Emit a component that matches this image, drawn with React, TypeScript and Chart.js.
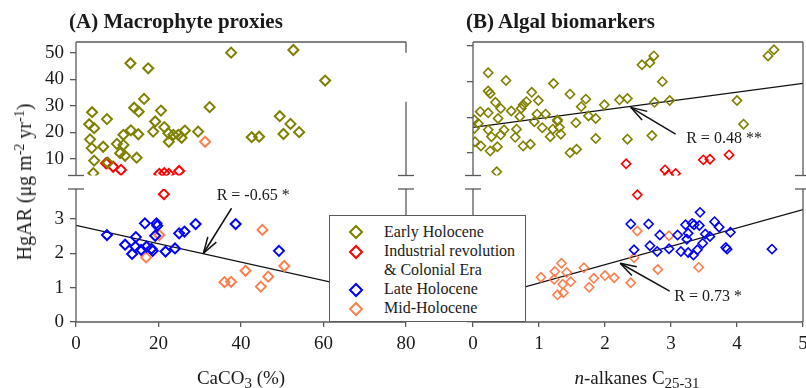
import React, { useEffect, useRef } from 'react';
import { Chart, registerables } from 'chart.js';

Chart.register(...registerables);

const FONT = '"Liberation Serif", "Times New Roman", Times, serif';
const OLIVE = '#808000';
const RED = '#FF0000';
const BLUE = '#0000FF';
const ORANGE = '#FA8050';
const FRAME = '#5a5a5a';
const TEXT = '#1a1a1a';

type Pair = [number, number];

// ---------- Panel A: Macrophyte proxies (x = CaCO3 %) ----------
const aXTicks = [0, 20, 40, 60, 80];
const aTopTicks = [10, 20, 30, 40, 50];
const aBotTicks = [0, 1, 2, 3];

const aEarly: Pair[] = [
  [13.2, 46.0], [17.5, 44.1], [37.6, 50.0], [52.7, 51.0], [60.4, 39.5], [16.5, 32.6],
  [14.1, 29.3], [15.2, 27.8], [20.6, 28.2], [32.4, 29.5], [3.9, 27.6], [7.5, 25.0],
  [3.2, 23.1], [4.4, 21.6], [19.2, 24.1], [13.3, 20.8], [15.1, 19.3], [18.7, 20.3],
  [21.4, 22.0], [22.4, 19.7], [22.5, 16.5], [23.6, 19.1], [24.8, 19.1], [25.6, 18.0],
  [26.4, 20.7], [29.6, 20.3], [42.6, 18.2], [44.4, 18.4], [49.4, 26.1], [52.0, 23.2],
  [50.3, 19.4], [54.1, 20.1], [3.4, 17.4], [3.8, 14.1], [6.6, 14.6], [9.9, 15.7],
  [11.5, 19.1], [11.5, 15.3], [10.7, 12.2], [11.9, 11.2], [14.7, 10.5], [4.4, 9.4],
  [7.7, 8.6], [4.2, 4.7],
];
const aIndustrialTop: Pair[] = [
  [7.3, 8.4], [9.0, 7.1], [10.9, 5.9], [20.2, 4.4], [21.4, 4.7], [22.5, 4.4], [25.0, 5.5],
];
const aIndustrialBot: Pair[] = [[21.3, 3.72]];
const aLate: Pair[] = [
  [7.5, 2.53], [11.9, 2.25], [13.6, 1.98], [14.5, 2.47], [14.4, 2.19], [15.8, 2.10],
  [16.7, 2.87], [17.1, 2.19], [18.3, 2.13], [18.6, 2.07], [19.5, 2.87], [19.7, 2.80],
  [19.2, 2.51], [21.7, 2.05], [24.0, 2.14], [25.0, 2.58], [26.3, 2.63], [29.0, 2.85],
  [38.7, 2.85], [49.2, 2.07],
];
const aMidTop: Pair[] = [[31.3, 16.5]];
const aMidBot: Pair[] = [
  [20.2, 2.53], [17.0, 1.88], [45.2, 2.68], [41.1, 1.49], [36.0, 1.16], [37.6, 1.17],
  [46.6, 1.32], [44.8, 1.03], [50.5, 1.63],
];
const aFit: Pair[] = [[0, 2.81], [80, 0.67]];

// ---------- Panel B: Algal biomarkers (x = n-alkanes C25-31) ----------
const bXTicks = [0, 1, 2, 3, 4, 5];
const bTopTicks = [10, 20, 30, 40];
const bBotTicks = [0, 1, 2, 3];

const bEarly: Pair[] = [
  [0.23, 32.5], [0.50, 30.3], [1.22, 29.5], [0.23, 27.4], [0.26, 26.7], [0.89, 27.0],
  [1.47, 26.5], [1.71, 25.1], [0.81, 24.4], [0.99, 24.7], [0.34, 24.2], [0.76, 23.5],
  [1.64, 23.0], [1.99, 23.5], [2.22, 24.9], [2.34, 25.3], [0.11, 21.6], [0.23, 21.3],
  [0.42, 22.5], [0.58, 21.8], [0.73, 22.5], [0.97, 20.9], [1.10, 20.9], [1.75, 20.4],
  [1.86, 19.7], [0.38, 19.7], [0.71, 20.2], [1.28, 19.3], [0.02, 19.3], [0.08, 18.3],
  [1.56, 18.5], [0.02, 16.9], [0.23, 16.5], [0.47, 16.5], [0.66, 16.7], [0.93, 18.8],
  [1.05, 17.1], [1.21, 16.7], [1.31, 17.2], [1.28, 19.0], [1.17, 14.6], [1.33, 15.3],
  [0.28, 14.6], [0.42, 15.1], [0.64, 14.4], [0.03, 13.2], [0.12, 12.0], [0.26, 10.6],
  [0.37, 11.8], [0.76, 12.0], [0.87, 12.5], [1.47, 10.1], [1.57, 11.1], [1.86, 14.1],
  [2.34, 13.9], [0.36, 4.8], [2.56, 34.7], [2.68, 35.3], [2.74, 37.2], [2.87, 30.0],
  [2.75, 24.2], [2.98, 24.7], [2.71, 14.9], [4.0, 24.7], [4.1, 18.1], [4.47, 37.2],
  [4.56, 38.9],
];
const bIndustrialTop: Pair[] = [
  [2.32, 7.0], [2.91, 5.3], [2.96, 3.9], [3.07, 4.3], [3.49, 8.1], [3.59, 8.3], [3.88, 9.5],
];
const bIndustrialBot: Pair[] = [[2.49, 3.70]];
const bLate: Pair[] = [
  [2.39, 2.85], [2.66, 2.85], [3.44, 3.19], [3.22, 2.83], [3.32, 2.87], [3.35, 2.83],
  [3.43, 2.81], [3.66, 2.92], [3.73, 2.76], [3.90, 2.61], [2.83, 2.53], [3.10, 2.53],
  [3.26, 2.58], [3.24, 2.41], [3.52, 2.56], [3.59, 2.49], [3.48, 2.29], [2.68, 2.22],
  [2.44, 2.10], [2.79, 2.05], [2.97, 2.13], [3.15, 2.05], [3.26, 2.02], [3.34, 1.95],
  [3.40, 2.10], [3.83, 2.17], [3.85, 2.12], [4.53, 2.12],
];
const bMid: Pair[] = [
  [2.49, 2.65], [2.97, 2.51], [2.44, 1.87], [2.80, 1.53], [3.42, 1.59], [2.39, 1.14],
  [1.03, 1.30], [1.24, 1.47], [1.34, 1.71], [1.42, 1.44], [1.23, 1.24], [1.48, 1.17],
  [1.36, 1.10], [1.28, 0.79], [1.37, 0.85], [1.68, 1.58], [1.83, 1.27], [1.76, 1.01],
  [2.00, 1.35], [2.14, 1.29],
];
const bFitTop: Pair[] = [[0, 17.2], [5, 29.5]];
const bFitBot: Pair[] = [[0, 0.60], [5, 3.27]];

const legendLabels = ['Early Holocene', 'Industrial revolution', '& Colonial Era', 'Late Holocene', 'Mid-Holocene'];

interface Ann {
  text: string;
  axis: 'yTop' | 'yBot';
  tx: number; ty: number; // text left/middle
  fx: number; fy: number; // arrow tail
  hx: number; hy: number; // arrow tip
}

interface Series { data: Pair[]; color: string; axis: 'yTop' | 'yBot' }

interface PanelCfg {
  xMin: number; xMax: number; xTicks: number[];
  topRange: [number, number]; topTicks: number[];
  botRange: [number, number]; botTicks: number[];
  showYLabels: boolean;
  yWidth: number; padLeft: number; padRight: number;
  series: Series[];
  fits: Series[];
  anns: Ann[];
  rightGap?: [number, number];
  pointRadius: number; pointBorder: number;
}

const panelA: PanelCfg = {
  xMin: 0, xMax: 80, xTicks: aXTicks,
  topRange: [3.8, 54], topTicks: aTopTicks,
  botRange: [0, 3.87], botTicks: aBotTicks,
  showYLabels: true, yWidth: 60, padLeft: 16, padRight: 34,
  series: [
    { data: aEarly, color: OLIVE, axis: 'yTop' },
    { data: aIndustrialTop, color: RED, axis: 'yTop' },
    { data: aIndustrialBot, color: RED, axis: 'yBot' },
    { data: aLate, color: BLUE, axis: 'yBot' },
    { data: aMidTop, color: ORANGE, axis: 'yTop' },
    { data: aMidBot, color: ORANGE, axis: 'yBot' },
  ],
  fits: [{ data: aFit, color: '#111', axis: 'yBot' }],
  anns: [{ text: 'R = -0.65 *', axis: 'yBot', tx: 34.1, ty: 3.67, fx: 37.7, fy: 3.31, hx: 30.9, hy: 2.0 }],
  rightGap: [50, 31.5],
  pointRadius: 5, pointBorder: 2,
};

const panelB: PanelCfg = {
  xMin: 0, xMax: 5, xTicks: bXTicks,
  topRange: [3.73, 41.09], topTicks: bTopTicks,
  botRange: [0, 3.87], botTicks: bBotTicks,
  showYLabels: false, yWidth: 20, padLeft: 13, padRight: 17,
  series: [
    { data: bEarly, color: OLIVE, axis: 'yTop' },
    { data: bIndustrialTop, color: RED, axis: 'yTop' },
    { data: bIndustrialBot, color: RED, axis: 'yBot' },
    { data: bLate, color: BLUE, axis: 'yBot' },
    { data: bMid, color: ORANGE, axis: 'yBot' },
  ],
  fits: [
    { data: bFitTop, color: '#111', axis: 'yTop' },
    { data: bFitBot, color: '#111', axis: 'yBot' },
  ],
  anns: [
    { text: 'R = 0.48 **', axis: 'yTop', tx: 3.23, ty: 14.1, fx: 3.07, fy: 15.3, hx: 2.39, hy: 22.8 },
    { text: 'R = 0.73 *', axis: 'yBot', tx: 3.05, ty: 0.72, fx: 2.98, fy: 0.90, hx: 2.23, hy: 1.71 },
  ],
  pointRadius: 4.6, pointBorder: 1.6,
};

function buildChart(canvas: HTMLCanvasElement, cfg: PanelCfg) {
  const pts = (arr: Pair[]) => arr.map(([x, y]) => ({ x, y }));
  const datasets: any[] = [];
  cfg.fits.forEach((f) => {
    datasets.push({
      type: 'line', data: pts(f.data), xAxisID: 'x', yAxisID: f.axis,
      borderColor: f.color, borderWidth: 1.2, pointRadius: 0, fill: false, tension: 0, order: 2,
    });
  });
  cfg.series.forEach((s) => {
    datasets.push({
      type: 'scatter', data: pts(s.data), xAxisID: 'x', yAxisID: s.axis, showLine: false,
      pointStyle: 'rectRot', pointRadius: cfg.pointRadius, pointHoverRadius: cfg.pointRadius,
      pointBorderWidth: cfg.pointBorder, borderColor: s.color, pointBorderColor: s.color,
      backgroundColor: 'rgba(0,0,0,0)', pointBackgroundColor: 'rgba(0,0,0,0)', order: 1,
    });
  });

  const tickFont = { family: FONT, size: 19 };
  const yAxis = (range: [number, number], ticks: number[], weight: number) => ({
    type: 'linear', position: 'left', stack: 'panel', stackWeight: weight,
    min: range[0], max: range[1],
    afterBuildTicks: (s: any) => { s.ticks = ticks.map((v) => ({ value: v })); },
    afterFit: (s: any) => { s.width = cfg.yWidth; s.paddingTop = 0; s.paddingBottom = 0; },
    ticks: { display: cfg.showYLabels, font: tickFont, color: TEXT, padding: 6, autoSkip: false },
    grid: { display: true, drawOnChartArea: false, drawTicks: true, tickLength: 6, color: FRAME, lineWidth: 1.3 },
    border: { display: false },
  });

  const framePlugin = {
    id: 'frameAndNotes',
    afterDraw(chart: any) {
      const ctx = chart.ctx as CanvasRenderingContext2D;
      const { left, right } = chart.chartArea;
      const yt = chart.scales.yTop;
      const yb = chart.scales.yBot;
      const xs = chart.scales.x;
      ctx.save();
      ctx.strokeStyle = FRAME;
      ctx.lineWidth = 1.3;
      const seg = (x1: number, y1: number, x2: number, y2: number) => {
        ctx.beginPath(); ctx.moveTo(x1, y1); ctx.lineTo(x2, y2); ctx.stroke();
      };
      seg(left, yt.top, right, yt.top);
      seg(left, yt.top, left, yt.bottom);
      if (cfg.rightGap) {
        const g1 = yt.getPixelForValue(cfg.rightGap[0]);
        const g2 = yt.getPixelForValue(cfg.rightGap[1]);
        seg(right, yt.top, right, g1);
        seg(right, g2, right, yt.bottom);
      } else {
        seg(right, yt.top, right, yt.bottom);
      }
      seg(left, yb.top, left, yb.bottom);
      seg(right, yb.top, right, yb.bottom);
      seg(left, yb.bottom, right, yb.bottom);
      for (const x of [left, right]) {
        for (const y of [yt.bottom, yb.top]) seg(x - 8, y, x + 8, y);
      }
      // annotations
      ctx.strokeStyle = '#111';
      ctx.fillStyle = TEXT;
      ctx.lineWidth = 1.5;
      ctx.font = `16px ${FONT}`;
      ctx.textAlign = 'left';
      ctx.textBaseline = 'middle';
      for (const a of cfg.anns) {
        const ys = chart.scales[a.axis];
        const tx = xs.getPixelForValue(a.tx), ty = ys.getPixelForValue(a.ty);
        const fx = xs.getPixelForValue(a.fx), fy = ys.getPixelForValue(a.fy);
        const hx = xs.getPixelForValue(a.hx), hy = ys.getPixelForValue(a.hy);
        ctx.fillText(a.text, tx, ty);
        seg(fx, fy, hx, hy);
        const ang = Math.atan2(fy - hy, fx - hx);
        const L = 17, sp = 0.3;
        seg(hx, hy, hx + L * Math.cos(ang + sp), hy + L * Math.sin(ang + sp));
        seg(hx, hy, hx + L * Math.cos(ang - sp), hy + L * Math.sin(ang - sp));
      }
      ctx.restore();
    },
  };

  return new Chart(canvas, {
    type: 'scatter',
    data: { datasets },
    options: {
      responsive: false,
      maintainAspectRatio: false,
      animation: false,
      devicePixelRatio: 1,
      events: [],
      layout: { padding: { left: cfg.padLeft, right: cfg.padRight, top: 42, bottom: 26 } },
      plugins: { legend: { display: false }, tooltip: { enabled: false }, title: { display: false } },
      scales: {
        x: {
          type: 'linear', position: 'bottom', min: cfg.xMin, max: cfg.xMax,
          afterBuildTicks: (s: any) => { s.ticks = cfg.xTicks.map((v) => ({ value: v })); },
          afterFit: (s: any) => { s.height = 40; s.paddingLeft = 0; s.paddingRight = 0; s.paddingTop = 0; s.paddingBottom = 0; },
          ticks: { font: tickFont, color: TEXT, padding: 6, maxRotation: 0, autoSkip: false },
          grid: { display: true, drawOnChartArea: false, drawTicks: true, tickLength: 5, color: FRAME, lineWidth: 1.3 },
          border: { display: false },
        },
        yBot: yAxis(cfg.botRange, cfg.botTicks, 133),
        yGap: {
          type: 'linear', position: 'left', stack: 'panel', stackWeight: 13.5, min: 0, max: 1,
          afterFit: (s: any) => { s.width = cfg.yWidth; s.paddingTop = 0; s.paddingBottom = 0; },
          ticks: { display: false }, grid: { display: false }, border: { display: false },
        },
        yTop: yAxis(cfg.topRange, cfg.topTicks, 133.5),
      },
    } as any,
    plugins: [framePlugin],
  } as any);
}

function Panel({ cfg, left, width }: { cfg: PanelCfg; left: number; width: number }) {
  const ref = useRef<HTMLCanvasElement>(null);
  useEffect(() => {
    const chart = buildChart(ref.current as HTMLCanvasElement, cfg);
    return () => chart.destroy();
  }, [cfg]);
  return (
    <canvas
      ref={ref}
      width={width}
      height={388}
      style={{ position: 'absolute', left, top: 0, width, height: 388 }}
    />
  );
}

function Diamond({ color }: { color: string }) {
  return (
    <svg width={16} height={16} style={{ position: 'absolute', left: -8, top: -8 }}>
      <polygon points="8,2 14,8 8,14 2,8" fill="none" stroke={color} strokeWidth={2} />
    </svg>
  );
}

export default function App() {
  const txt: React.CSSProperties = { position: 'absolute', fontFamily: FONT, color: TEXT, whiteSpace: 'nowrap' };
  const legendColors = [OLIVE, RED, BLUE, ORANGE];
  const markerTops = [16, 36, 74, 93];
  const textTops = [6, 25, 44, 63, 82];
  return (
    <div style={{ position: 'absolute', left: 0, top: 0, width: 806, height: 388, overflow: 'hidden', background: '#fff' }}>
      <Panel cfg={panelA} left={0} width={440} />
      <Panel cfg={panelB} left={440} width={380} />
      <div style={{ ...txt, left: 69, top: 11, fontSize: 21, lineHeight: '21px', fontWeight: 'bold' }}>(A) Macrophyte proxies</div>
      <div style={{ ...txt, left: 466, top: 11, fontSize: 21, lineHeight: '21px', fontWeight: 'bold' }}>(B) Algal biomarkers</div>
      <div style={{ ...txt, left: 141, width: 200, top: 368, textAlign: 'center', fontSize: 19, lineHeight: '19px' }}>
        CaCO<sub style={{ fontSize: 15, verticalAlign: -4, lineHeight: 0 }}>3</sub> (%)
      </div>
      <div style={{ ...txt, left: 537, width: 200, top: 368, textAlign: 'center', fontSize: 19, lineHeight: '19px' }}>
        <i>n</i>-alkanes C<sub style={{ fontSize: 15, verticalAlign: -4, lineHeight: 0 }}>25-31</sub>
      </div>
      <div
        style={{
          ...txt, left: 24, top: 182, fontSize: 20, lineHeight: '20px',
          transform: 'translate(-50%, -50%) rotate(-90deg)',
        }}
      >
        HgAR (μg m<sup style={{ fontSize: 14, verticalAlign: 7, lineHeight: 0 }}>-2</sup> yr<sup style={{ fontSize: 14, verticalAlign: 7, lineHeight: 0 }}>-1</sup>)
      </div>
      <div
        style={{
          position: 'absolute', left: 329, top: 215, width: 197, height: 107, boxSizing: 'border-box',
          border: `1.3px solid ${FRAME}`, background: '#fff', zIndex: 2,
        }}
      >
        {legendColors.map((c, i) => (
          <div key={c} style={{ position: 'absolute', left: 26, top: markerTops[i] }}>
            <Diamond color={c} />
          </div>
        ))}
        {legendLabels.map((t, i) => (
          <div key={t} style={{ ...txt, left: 54, top: textTops[i], fontSize: 16, lineHeight: '19px' }}>{t}</div>
        ))}
      </div>
    </div>
  );
}
